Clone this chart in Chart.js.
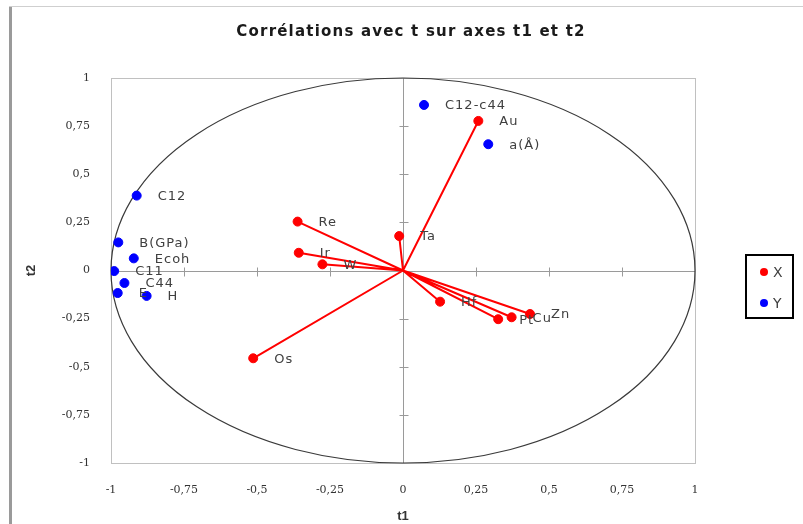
<!DOCTYPE html>
<html>
<head>
<meta charset="utf-8">
<script src="https://cdn.jsdelivr.net/npm/chart.js@4"></script>
<style>
  html, body { margin: 0; padding: 0; background: #fff; }
  #chart { display: block; }
</style>
</head>
<body>
<canvas id="chart" width="803" height="524"></canvas>
<script>
// Variables of group X (drawn as vectors from the origin)
const xNames = ['Au', 'Ta', 'Re', 'Ir', 'W', 'Os', 'Hf', 'Pt', 'Cu', 'Zn'];
const xT1 = [0.258, -0.013, -0.361, -0.357, -0.276, -0.513, 0.127, 0.326, 0.372, 0.435];
const xT2 = [0.777, 0.179, 0.254, 0.092, 0.032, -0.456, -0.162, -0.253, -0.243, -0.226];

// Variables of group Y (points only)
const yNames = ['C12-c44', 'a(Å)', 'C12', 'B(GPa)', 'Ecoh', 'C11', 'C44', 'E', 'H'];
const yT1 = [0.072, 0.292, -0.912, -0.975, -0.922, -0.989, -0.954, -0.977, -0.878];
const yT2 = [0.860, 0.656, 0.389, 0.146, 0.063, -0.003, -0.065, -0.117, -0.132];

const tickLabels = ['-1', '-0,75', '-0,5', '-0,25', '0', '0,25', '0,5', '0,75', '1'];

const toPoints = (a, b) => a.map((v, i) => ({ x: v, y: b[i] }));
const tickText = v => tickLabels[Math.round((v + 1) / 0.25)];

const tickFont = { family: 'DejaVu Serif', size: 11 };
const labelFont = '13px "DejaVu Sans"';

// frame, plot border, axes through the origin, unit circle, vectors, labels, legend
const decor = {
  id: 'decor',
  beforeDraw(chart) {
    const { ctx, chartArea: a, scales: { x, y } } = chart;
    ctx.save();
    // outer frame
    ctx.fillStyle = '#9a9a9a';
    ctx.fillRect(9, 6, 3, 524);
    ctx.fillStyle = '#cfcfcf';
    ctx.fillRect(9, 6, 803, 1);
    // plot area border
    ctx.strokeStyle = '#c0c0c0';
    ctx.lineWidth = 1;
    ctx.strokeRect(a.left + 0.5, a.top + 0.5, a.right - a.left, a.bottom - a.top);
    // axes through origin
    const x0 = Math.round(x.getPixelForValue(0)) + 0.5;
    const y0 = Math.round(y.getPixelForValue(0)) + 0.5;
    ctx.strokeStyle = '#9a9a9a';
    ctx.beginPath();
    ctx.moveTo(x0, a.top); ctx.lineTo(x0, a.bottom);
    ctx.moveTo(a.left, y0); ctx.lineTo(a.right, y0);
    for (let v = -0.75; v < 1; v += 0.25) {
      const px = Math.round(x.getPixelForValue(v)) + 0.5;
      const py = Math.round(y.getPixelForValue(v)) + 0.5;
      ctx.moveTo(px, y0 - 4); ctx.lineTo(px, y0 + 5);
      ctx.moveTo(x0 - 4, py); ctx.lineTo(x0 + 5, py);
    }
    ctx.stroke();
    // unit circle
    const cx = x.getPixelForValue(0), cy = y.getPixelForValue(0);
    const rx = x.getPixelForValue(1) - cx, ry = cy - y.getPixelForValue(1);
    ctx.strokeStyle = '#3a3a3a';
    ctx.lineWidth = 1.2;
    ctx.beginPath();
    ctx.ellipse(cx, cy, rx, ry, 0, 0, Math.PI * 2);
    ctx.stroke();
    ctx.restore();
  },
  beforeDatasetsDraw(chart) {
    const { ctx, scales: { x, y } } = chart;
    const ox = x.getPixelForValue(0), oy = y.getPixelForValue(0);
    ctx.save();
    ctx.strokeStyle = '#ff0000';
    ctx.lineWidth = 2;
    ctx.beginPath();
    xT1.forEach((v, i) => {
      ctx.moveTo(ox, oy);
      ctx.lineTo(x.getPixelForValue(v), y.getPixelForValue(xT2[i]));
    });
    ctx.stroke();
    ctx.restore();
  },
  afterDatasetsDraw(chart) {
    const { ctx, scales: { x, y } } = chart;
    ctx.save();
    ctx.font = labelFont;
    ctx.letterSpacing = '1px';
    ctx.fillStyle = '#404040';
    ctx.textAlign = 'left';
    ctx.textBaseline = 'middle';
    const put = (names, a, b) => names.forEach((n, i) => {
      ctx.fillText(n, x.getPixelForValue(a[i]) + 21, y.getPixelForValue(b[i]) + 1);
    });
    put(xNames, xT1, xT2);
    put(yNames, yT1, yT2);

    // title
    ctx.font = 'bold 15px "DejaVu Sans"';
    ctx.letterSpacing = '1.2px';
    ctx.fillStyle = '#1a1a1a';
    ctx.textAlign = 'center';
    ctx.fillText('Corrélations avec t sur axes t1 et t2', 411, 32);

    // legend
    ctx.letterSpacing = '0px';
    ctx.strokeStyle = '#000';
    ctx.lineWidth = 2;
    ctx.strokeRect(746, 255, 47, 63);
    ctx.font = '14px "DejaVu Sans"';
    ctx.textAlign = 'left';
    chart.data.datasets.forEach((ds, i) => {
      const ly = 272 + i * 31;
      ctx.fillStyle = ds.backgroundColor;
      ctx.beginPath();
      ctx.arc(764, ly, 4, 0, Math.PI * 2);
      ctx.fill();
      ctx.fillStyle = '#404040';
      ctx.fillText(ds.label, 773, ly + 1);
    });
    ctx.restore();
  }
};

new Chart(document.getElementById('chart'), {
  type: 'scatter',
  data: {
    datasets: [
      { label: 'X', data: toPoints(xT1, xT2), backgroundColor: '#ff0000', borderColor: '#ff0000', pointRadius: 4.5, pointHoverRadius: 4.5 },
      { label: 'Y', data: toPoints(yT1, yT2), backgroundColor: '#0000ff', borderColor: '#0000ff', pointRadius: 4.5, pointHoverRadius: 4.5 }
    ]
  },
  options: {
    responsive: false,
    animation: false,
    devicePixelRatio: 1,
    layout: { padding: { top: 78, right: 108, left: 0, bottom: 0 } },
    plugins: { legend: { display: false }, tooltip: { enabled: false }, title: { display: false } },
    scales: {
      x: {
        type: 'linear', min: -1, max: 1,
        afterFit: s => { s.height = 61; },
        grid: { display: false, drawTicks: false },
        border: { display: false },
        ticks: { stepSize: 0.25, padding: 21, color: '#333', font: tickFont, callback: tickText, maxRotation: 0 },
        title: { display: true, text: 't1', color: '#333', font: { family: 'Liberation Sans', size: 13, weight: 'bold' }, padding: { top: 0, bottom: 0 } }
      },
      y: {
        type: 'linear', min: -1, max: 1,
        afterFit: s => { s.width = 111; },
        grid: { display: false, drawTicks: false },
        border: { display: false },
        ticks: { stepSize: 0.25, padding: 21, color: '#333', font: tickFont, callback: tickText },
        title: { display: true, text: 't2', color: '#333', font: { family: 'Liberation Sans', size: 13, weight: 'bold' }, padding: { top: 24, bottom: 0 } }
      }
    }
  },
  plugins: [decor]
});
</script>
</body>
</html>
